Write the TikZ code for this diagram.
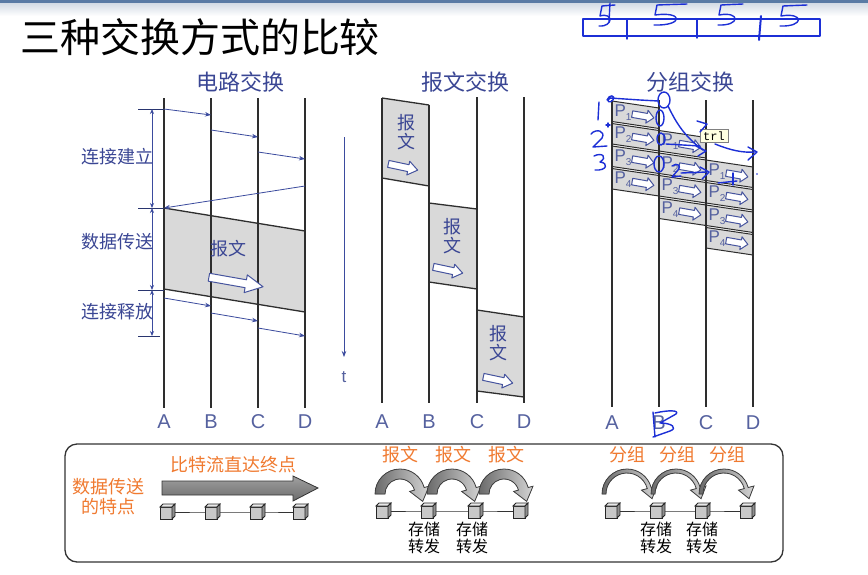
\documentclass[tikz,border=0pt]{standalone}
\usepackage{fontspec}
\setmainfont{Liberation Sans}
\setmonofont{Liberation Mono}
\newfontfamily\cjk{Noto Sans CJK SC}
\usetikzlibrary{arrows.meta,calc}
\definecolor{txtblue}{HTML}{3A4694}
\definecolor{lblblue}{HTML}{55619F}
\definecolor{sigcol}{HTML}{3B4B9E}
\definecolor{lanecol}{HTML}{2E2E2E}
\definecolor{bandgray}{HTML}{D9D9D9}
\definecolor{holblue}{HTML}{46549E}
\definecolor{orangecol}{HTML}{F07A30}
\definecolor{inkblue}{HTML}{1C2FD6}
\definecolor{arcdark}{HTML}{6A6A6A}
\definecolor{arclight}{HTML}{D4D4D4}
\definecolor{cubefront}{HTML}{C8C8C8}
\definecolor{cubetop}{HTML}{E8E8E8}
\definecolor{cubeside}{HTML}{8E8E8E}
\definecolor{tipyellow}{HTML}{FFFFE1}
\definecolor{bigtop}{HTML}{A0A0A0}
\definecolor{bigbot}{HTML}{6C6C6C}
\definecolor{hdrblue}{HTML}{5A7BA5}
\definecolor{hdrgray}{HTML}{D3DBE5}
\tikzset{
 lane/.style={draw=lanecol, line width=1.3pt},
 sig/.style={draw=sigcol, line width=0.8pt, -{Stealth[length=6pt,width=4.5pt]}},
 dimarr/.style={draw=sigcol, line width=0.8pt, {Stealth[length=5pt,width=4pt]}-{Stealth[length=5pt,width=4pt]}},
 dimtick/.style={draw=sigcol!70!black, line width=0.8pt},
 hdr/.style={font=\cjk\fontsize{22}{22}\selectfont, text=txtblue, inner sep=0pt},
 side/.style={font=\cjk\fontsize{18}{18}\selectfont, text=txtblue, inner sep=0pt},
 lbl/.style={font=\fontsize{20}{20}\selectfont, text=lblblue, inner sep=0pt},
 bandfill/.style={fill=bandgray},
 bandedge/.style={draw=lanecol, line width=1.3pt},
 hollow/.style={draw=holblue, fill=white, line width=1pt, line join=round},
 boxtxt/.style={font=\cjk\fontsize{18}{19}\selectfont, text=txtblue, align=center, inner sep=0pt},
 pkt/.style={fill=bandgray, draw=lanecol, line width=1pt},
 ptxt/.style={font=\fontsize{17}{17}\selectfont, text=lblblue, inner sep=0pt},
 oranget/.style={font=\cjk\fontsize{18}{20}\selectfont, text=orangecol, align=center, inner sep=0pt},
 blacknote/.style={font=\cjk\fontsize{16}{17}\selectfont, align=center, inner sep=0pt},
 ink/.style={draw=inkblue, line width=1.4pt, line cap=round, line join=round},
 link/.style={draw=black!80, line width=0.9pt},
 curvearr/.style={left color=arcdark, right color=arclight, draw=black!75, line width=0.8pt},
}
% hollow arrow: x y angle L s h
\newcommand\harrow[6]{%
  \draw[hollow, shift={(#1,#2)}, rotate=#3] ({-#4/2},{-#5}) -- ({#4/2-0.32*#4},{-#5}) -- ({#4/2-0.32*#4},{-#6}) -- ({#4/2},0) -- ({#4/2-0.32*#4},{#6}) -- ({#4/2-0.32*#4},{#5}) -- ({-#4/2},{#5}) -- cycle;}
% cube at named coordinate
\newcommand\mycube[1]{%
  \begin{scope}[shift={(#1)}]
  \filldraw[draw=black!85, line width=0.8pt, fill=cubefront] (-7,-5) rectangle (5,7);
  \filldraw[draw=black!85, line width=0.8pt, fill=cubetop] (-7,-5) -- (-4,-8) -- (8,-8) -- (5,-5) -- cycle;
  \filldraw[draw=black!85, line width=0.8pt, fill=cubeside] (5,-5) -- (8,-8) -- (8,4) -- (5,7) -- cycle;
  \end{scope}}
% curved arrow: cx cy Ro Ri extra headlen
\newcommand\curvarrow[6]{%
  \begin{scope}[shift={(#1,#2)}]
  \pgfmathsetmacro\armid{(#3+#4)/2}
  \filldraw[curvearr] (180:#3) arc[start angle=180, end angle=345, radius=#3] -- (345:{#3+#5}) -- ($(345:\armid)+(75:#6)$) -- (345:{#4-#5}) -- (345:#4) arc[start angle=345, end angle=180, radius=#4] -- cycle;
  \end{scope}}
% packet: name xl top n
\newcommand\pkt[4]{%
  \filldraw[pkt] (#2,{#3+1}) -- ({#2+47},{#3+8}) -- ({#2+47},{#3+28.5}) -- (#2,{#3+21.5}) -- cycle;
  \node[ptxt] (#1) at ({#2+11},{#3+12.5}) {P\raisebox{-4pt}{\fontsize{10}{10}\selectfont #4}};
  \harrow{#2+31}{#3+16}{-10}{22}{3.3}{6.5}}
% handwritten five: x y w
\newcommand\hfive[3]{%
  \draw[ink] ({#1+#3},#2) .. controls ({#1+#3*0.5},{#2+0.5}) .. ({#1+2},{#2+1}) -- (#1,{#2+11}) .. controls ({#1+#3*0.9},{#2+7}) and ({#1+#3*0.9},{#2+22}) .. ({#1-1},{#2+21});}
\begin{document}
\begin{tikzpicture}[x=1pt,y=-1pt]
\useasboundingbox (0,0) rectangle (868,574);
\fill[white] (0,0) rectangle (868,574);
% slide header band
\fill[hdrblue] (0,0) rectangle (868,3);
\shade[top color=hdrgray, bottom color=white] (0,3) rectangle (868,16);
\node[font=\cjk\fontsize{40}{40}\selectfont, inner sep=0pt] (title) at (200,37) {三种交换方式的比较};

% ================= circuit switching
\node[hdr] (t1) at (240,82) {电路交换};
\coordinate (cAt) at (164,98); \coordinate (cAb) at (164,408);
\coordinate (cBt) at (211,98); \coordinate (cBb) at (211,408);
\coordinate (cCt) at (258,98); \coordinate (cCb) at (258,408);
\coordinate (cDt) at (305,98); \coordinate (cDb) at (305,408);
\coordinate (b1) at (164,208); \coordinate (b2) at (305,231);
\coordinate (b3) at (305,312); \coordinate (b4) at (164,289);
\fill[bandfill] (b1) -- (b2) -- (b3) -- (b4) -- cycle;
\draw[bandedge] (b1) -- (b2);
\draw[bandedge] (b4) -- (b3);
\draw[lane] (cAt) -- (cAb);
\draw[lane] (cBt) -- (cBb);
\draw[lane] (cCt) -- (cCb);
\draw[lane] (cDt) -- (cDb);
\node[lbl] (cA) at (164,422) {A};
\node[lbl] (cB) at (211,422) {B};
\node[lbl] (cC) at (258,422) {C};
\node[lbl] (cD) at (305,422) {D};
% setup signals
\coordinate (s1a) at (164,109); \coordinate (s1b) at (211,115);
\coordinate (s2a) at (211,130); \coordinate (s2b) at (258,137);
\coordinate (s3a) at (258,152); \coordinate (s3b) at (305,159);
\coordinate (s4a) at (305,186); \coordinate (s4b) at (164,208);
\draw[sig] (s1a) -- (s1b);
\draw[sig] (s2a) -- (s2b);
\draw[sig] (s3a) -- (s3b);
\draw[sig] (s4a) -- (s4b);
% release signals
\coordinate (r1a) at (164,298); \coordinate (r1b) at (211,306);
\coordinate (r2a) at (211,313); \coordinate (r2b) at (258,321);
\coordinate (r3a) at (258,328); \coordinate (r3b) at (305,336);
\draw[sig] (r1a) -- (r1b);
\draw[sig] (r2a) -- (r2b);
\draw[sig] (r3a) -- (r3b);
% dimension
\coordinate (d1l) at (138,109); \coordinate (d1r) at (164,109);
\coordinate (d2l) at (138,208); \coordinate (d2r) at (164,208);
\coordinate (d3l) at (138,290); \coordinate (d3r) at (164,290);
\coordinate (d4l) at (138,336); \coordinate (d4r) at (160,336);
\draw[dimtick] (d1l) -- (d1r);
\draw[dimtick] (d2l) -- (d2r);
\draw[dimtick] (d3l) -- (d3r);
\draw[dimtick] (d4l) -- (d4r);
\coordinate (v1) at (152,109); \coordinate (v2) at (152,208);
\coordinate (v3) at (152,290); \coordinate (v4) at (152,336);
\draw[dimarr] (v1) -- (v2);
\draw[dimarr] (v2) -- (v3);
\draw[dimarr] (v3) -- (v4);
\node[side] (l1) at (117,157) {连接建立};
\node[side] (l2) at (117,242) {数据传送};
\node[side] (l3) at (117,312) {连接释放};
\node[boxtxt] (cmsg) at (228,249) {报文};
\harrow{236}{282}{-10}{55}{4}{9}

% ================= message switching
\node[hdr] (t2) at (465,82) {报文交换};
\coordinate (m1a) at (382,98);  \coordinate (m1b) at (429,105);
\coordinate (m1c) at (429,186); \coordinate (m1d) at (382,178);
\coordinate (m2a) at (429,203); \coordinate (m2b) at (477,209);
\coordinate (m2c) at (477,289); \coordinate (m2d) at (429,282);
\coordinate (m3a) at (477,310); \coordinate (m3b) at (524,317);
\coordinate (m3c) at (524,397); \coordinate (m3d) at (477,391);
\fill[bandfill] (m1a) -- (m1b) -- (m1c) -- (m1d) -- cycle;
\fill[bandfill] (m2a) -- (m2b) -- (m2c) -- (m2d) -- cycle;
\fill[bandfill] (m3a) -- (m3b) -- (m3c) -- (m3d) -- cycle;
\draw[bandedge] (m1a) -- (m1b);
\draw[bandedge] (m1d) -- (m1c);
\draw[bandedge] (m2a) -- (m2b);
\draw[bandedge] (m2d) -- (m2c);
\draw[bandedge] (m3a) -- (m3b);
\draw[bandedge] (m3d) -- (m3c);
\coordinate (mAt) at (382,98);  \coordinate (mAb) at (382,403);
\coordinate (mBt) at (429,105); \coordinate (mBb) at (429,403);
\coordinate (mCt) at (477,97);  \coordinate (mCb) at (477,403);
\coordinate (mDt) at (524,97);  \coordinate (mDb) at (524,403);
\draw[lane] (mAt) -- (mAb);
\draw[lane] (mBt) -- (mBb);
\draw[lane] (mCt) -- (mCb);
\draw[lane] (mDt) -- (mDb);
\node[lbl] (mA) at (382,422) {A};
\node[lbl] (mB) at (429,422) {B};
\node[lbl] (mC) at (477,422) {C};
\node[lbl] (mD) at (524,422) {D};
\node[boxtxt] (mt1) at (406,132) {报\\文};
\node[boxtxt] (mt2) at (452,236) {报\\文};
\node[boxtxt] (mt3) at (498,343) {报\\文};
\harrow{403}{167}{-12}{30}{3.5}{7}
\harrow{448}{270}{-12}{30}{3.5}{7}
\harrow{498}{380}{-12}{30}{3.5}{7}
\coordinate (tt) at (344,137); \coordinate (tb) at (344,357);
\draw[sig] (tt) -- (tb);
\node[font=\fontsize{17}{17}\selectfont, text=lblblue, inner sep=0pt] (tlab) at (344,377) {t};

% ================= packet switching
\node[hdr] (t3) at (690,82) {分组交换};
\pkt{pa1}{612}{100}{1}
\pkt{pa2}{612}{122.5}{2}
\pkt{pa3}{612}{145}{3}
\pkt{pa4}{612}{167.5}{4}
\pkt{pb1}{659}{129.5}{1}
\pkt{pb2}{659}{152}{2}
\pkt{pb3}{659}{174.5}{3}
\pkt{pb4}{659}{197}{4}
\pkt{pc1}{706}{159}{1}
\pkt{pc2}{706}{181.5}{2}
\pkt{pc3}{706}{204}{3}
\pkt{pc4}{706}{226.5}{4}
\coordinate (pAt) at (612,100); \coordinate (pAb) at (612,407);
\coordinate (pBt) at (659,100); \coordinate (pBb) at (659,407);
\coordinate (pCt) at (706,100); \coordinate (pCb) at (706,407);
\coordinate (pDt) at (753,100); \coordinate (pDb) at (753,407);
\draw[lane] (pAt) -- (pAb);
\draw[lane] (pBt) -- (pBb);
\draw[lane] (pCt) -- (pCb);
\draw[lane] (pDt) -- (pDb);
\node[lbl] (pA) at (612,423) {A};
\node[lbl] (pB) at (659,423) {B};
\node[lbl] (pC) at (706,423) {C};
\node[lbl] (pD) at (753,423) {D};

% ================= bottom comparison box
\draw[draw=black!80, line width=1.3pt, rounded corners=12pt] (65,444) rectangle (783,562);
\node[oranget] (feat) at (108,497) {数据传送\\的特点};
\node[oranget] (bits) at (233,465) {比特流直达终点};
\shade[top color=bigtop, bottom color=bigbot, draw=black!80, line width=0.8pt] (162,481) -- (293,481) -- (293,476) -- (318,488) -- (293,501) -- (293,495) -- (162,495) -- cycle;
\coordinate (k1) at (167,512); \coordinate (k2) at (212,512);
\coordinate (k3) at (257,512); \coordinate (k4) at (300,512);
\draw[link] (k1) -- (k2) -- (k3) -- (k4);
\mycube{k1}\mycube{k2}\mycube{k3}\mycube{k4}
% message
\node[oranget] (mm1) at (400,455) {报文};
\node[oranget] (mm2) at (453,455) {报文};
\node[oranget] (mm3) at (506,455) {报文};
\curvarrow{400}{494}{25}{15}{5}{13}
\curvarrow{452}{494}{25}{15}{5}{13}
\curvarrow{504}{494}{25}{15}{5}{13}
\coordinate (q1) at (383,511); \coordinate (q2) at (428,511);
\coordinate (q3) at (475,511); \coordinate (q4) at (520,511);
\draw[link] (q1) -- (q2) -- (q3) -- (q4);
\mycube{q1}\mycube{q2}\mycube{q3}\mycube{q4}
\node[blacknote] (sf1) at (424,538) {存储\\转发};
\node[blacknote] (sf2) at (472,538) {存储\\转发};
% packet
\node[oranget] (pp1) at (627,455) {分组};
\node[oranget] (pp2) at (677,455) {分组};
\node[oranget] (pp3) at (727,455) {分组};
\curvarrow{627}{494}{25}{21}{6}{11}
\curvarrow{676}{494}{25}{21}{6}{11}
\curvarrow{724}{494}{25}{21}{6}{11}
\coordinate (w1) at (612,511); \coordinate (w2) at (657,511);
\coordinate (w3) at (702,511); \coordinate (w4) at (747,511);
\draw[link] (w1) -- (w2) -- (w3) -- (w4);
\mycube{w1}\mycube{w2}\mycube{w3}\mycube{w4}
\node[blacknote] (sf3) at (656,538) {存储\\转发};
\node[blacknote] (sf4) at (702,538) {存储\\转发};

% ================= handwritten annotations
\draw[ink] (583,19) rectangle (820,36);
\draw[ink] (627,20) -- (627,39);
\draw[ink] (697,19) -- (697,38);
\draw[ink, line width=2pt] (761,16) -- (759,40);
\hfive{600}{5}{15}
\draw[ink] (610,3) -- (609,22);
\hfive{655}{4}{32}
\hfive{719}{4}{24}
\hfive{781}{5}{26}
% tooltip
\node[draw=black!50, fill=tipyellow, font=\ttfamily\fontsize{12}{12}\selectfont, inner xsep=3pt, inner ysep=2pt] (tip) at (714,136) {trl};
% numbers and strokes in packet area
\draw[ink] (599,102) -- (598,120);
\draw[ink] (607,100) .. controls (609,94) and (616,95) .. (613,100) .. controls (610,104) and (605,101) .. (610,98) -- (640,100) -- (658,101);
\draw[ink] (664,100) ellipse [x radius=6, y radius=8];
\draw[ink] (660,118) ellipse [x radius=4, y radius=8];
\draw[ink] (661,139) ellipse [x radius=4, y radius=6];
\draw[ink] (659,164) ellipse [x radius=5, y radius=8];
\draw[ink] (591,134) .. controls (596,128) and (606,131) .. (602,138) -- (593,147) -- (607,146);
\draw[ink] (606,125) -- (610,125) (608,123) -- (608,127);
\draw[ink] (594,156) .. controls (602,152) and (608,157) .. (600,162) .. controls (609,163) and (607,171) .. (595,170);
\draw[ink] (668,106) .. controls (674,118) and (682,135) .. (703,150);
\draw[ink] (696,146) -- (706,151) -- (698,156);
\draw[ink] (697,121) -- (707,124) -- (700,132);
\draw[ink] (666,144) -- (700,146);
\draw[ink] (715,144) .. controls (730,150) and (742,153) .. (755,152);
\draw[ink] (748,147) -- (757,152) -- (748,160);
\draw[ink] (672,166) .. controls (677,162) and (682,166) .. (678,170) -- (672,177) -- (681,176);
\draw[ink] (681,173) -- (707,172);
\draw[ink] (700,167) -- (709,172) -- (702,179);
\draw[ink] (718,183) -- (737,181);
\draw[ink] (733,173) -- (733,185);
\fill[inkblue] (757,174) circle (0.9);
% handwritten B
\draw[ink] (653,412) -- (655,437);
\draw[ink] (655,413) .. controls (668,410) and (680,410) .. (676,414) -- (660,423) .. controls (672,423) and (678,428) .. (670,431) -- (653,437);
\end{tikzpicture}
\end{document}
